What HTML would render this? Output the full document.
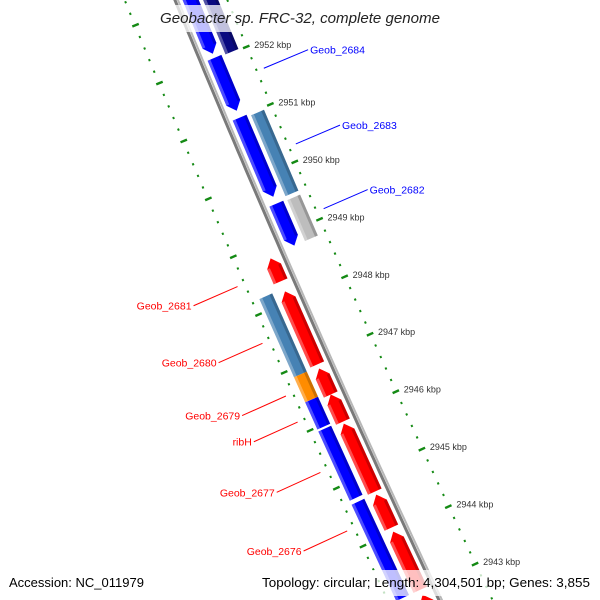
<!DOCTYPE html>
<html><head><meta charset="utf-8"><style>
html,body{margin:0;padding:0;background:#fff;width:600px;height:600px;overflow:hidden;}
svg{display:block;font-family:"Liberation Sans",sans-serif;overflow:hidden;}
</style></head><body>
<svg id="map" width="600" height="600" viewBox="0 0 600 600" xmlns="http://www.w3.org/2000/svg">
<g id="ticks"></g>
<g id="backbone"></g>
<g id="features"></g>
<g id="labels"></g>
<rect x="157" y="5" width="288" height="27" fill="#fff" fill-opacity="0.75"/>
<text x="160" y="23" font-size="15" font-style="italic" fill="#222" textLength="280" lengthAdjust="spacingAndGlyphs">Geobacter sp. FRC-32, complete genome</text>
<rect x="258" y="570" width="338" height="26" fill="#fff" fill-opacity="0.75"/>
<text x="9" y="587" font-size="13" fill="#000" textLength="135" lengthAdjust="spacingAndGlyphs">Accession: NC_011979</text>
<text x="262" y="587" font-size="13" fill="#000" textLength="328" lengthAdjust="spacingAndGlyphs">Topology: circular; Length: 4,304,501 bp; Genes: 3,855</text>
</svg>
<script>
// ---- data ----
const tickKbp = [2943,2944,2945,2946,2947,2948,2949,2950,2951,2952,2953];
const tickLabels = ["2943 kbp","2944 kbp","2945 kbp","2946 kbp","2947 kbp","2948 kbp","2949 kbp","2950 kbp","2951 kbp","2952 kbp","2953 kbp"];
const featStart = [2953474,2952052,2951012,2949520, 2953474,2950977,2949503, 2948757,2948185,2946850,2946399,2945896,2944665,2944024,2942931, 2948237,2946885,2946451,2945948,2944683,2942931];
const featEnd   = [2952087,2951098,2949607,2948757, 2952000,2949538,2948757, 2948324,2946885,2946365,2945896,2944683,2944058,2942983,2942000, 2946850,2946417,2945948,2944717,2942983,2942400];
const featLane  = ["R1","R1","R1","R1", "R2","R2","R2", "L1","L1","L1","L1","L1","L1","L1","L1", "L2","L2","L2","L2","L2","L2"];
const featColor = ["#0000ff","#0000ff","#0000ff","#0000ff", "#0a0a80","#4682b4","#bdbdbd", "#ff0000","#ff0000","#ff0000","#ff0000","#ff0000","#ff0000","#ff0000","#ff0000", "#4682b4","#ff8c00","#0000ff","#0000ff","#0000ff","#ff8c00"];
const labelNames = ["Geob_2684","Geob_2683","Geob_2682","Geob_2681","Geob_2680","Geob_2679","ribH","Geob_2677","Geob_2676"];
const labelBp    = [2951575,2950257,2949130,2948540,2947560,2946650,2946200,2945330,2944320];
const labelSide  = ["R","R","R","L","L","L","L","L","L"];
const labelColor = ["#0000ff","#0000ff","#0000ff","#ff0000","#ff0000","#ff0000","#ff0000","#ff0000","#ff0000"];

// ---- axis / geometry ----
const NS="http://www.w3.org/2000/svg";
function sOf(bp){ return 65 + (2952000 - bp) * 0.05767; }
function xg(s){ return 176 + 0.41*s + 0.00005*s*s; }
function pt(s,v){ const d=0.41+0.0001*s; const L=Math.sqrt(1+d*d); return [xg(s)+v*(1/L), s+v*(-d/L)]; }
const laneV = {R1:[6,21], R2:[25,39], L1:[-21,-6], L2:[-40,-26]};
const laneDir = {R1:"down", R2:"none", L1:"up", L2:"none"};
function poly(points){ return points.map(p=>p[0].toFixed(1)+","+p[1].toFixed(1)).join(" "); }

// ticks
const tg=document.getElementById("ticks");
for(let k=Math.round(2942.2*5); k<=Math.round(2953.6*5); k++){
  const kb=k/5; const s=sOf(kb*1000); const major=(k%5===0);
  [1,-1].forEach(side=>{
    const a = major? pt(s,side*43.5):pt(s,side*46.5);
    const b = major? pt(s,side*50.5):pt(s,side*48.5);
    const ln=document.createElementNS(NS,"line");
    
    
    ln.setAttribute("x1",a[0]);ln.setAttribute("y1",a[1]);ln.setAttribute("x2",b[0]);ln.setAttribute("y2",b[1]);
    ln.setAttribute("stroke","#148a14");ln.setAttribute("stroke-width",major?2.4:2.2);
    tg.appendChild(ln);
  });
}
tickKbp.forEach((kb,i)=>{
  const p=pt(sOf(kb*1000),47);
  if(p[1]>595) return;
  const t=document.createElementNS(NS,"text");
  
  
  t.setAttribute("x",p[0]+8);t.setAttribute("y",p[1]+1);
  t.setAttribute("font-size","9");t.setAttribute("fill","#333");
  t.textContent=tickLabels[i];tg.appendChild(t);
});

// backbone
const bg=document.getElementById("backbone");
[[-1,"#7a7a7a",3],[1.8,"#b8b8b8",2]].forEach(c=>{
  const pts=[];for(let s=-30;s<=640;s+=10)pts.push(pt(s,c[0]));
  const pl=document.createElementNS(NS,"polyline");
  
  
  pl.setAttribute("points",poly(pts));pl.setAttribute("fill","none");pl.setAttribute("stroke",c[1]);pl.setAttribute("stroke-width",c[2]);
  bg.appendChild(pl);
});

// features
const fg=document.getElementById("features");
featStart.forEach((st,i)=>{
  const s1=sOf(st)+1, s2=sOf(featEnd[i])-1;
  const [v0,v1]=laneV[featLane[i]]; const vc=(v0+v1)/2; const dir=laneDir[featLane[i]];
  const head=Math.min(8,(s2-s1)*0.5);
  let P;
  if(dir==="down") P=[pt(s1,v0),pt(s1,v1),pt(s2-head,v1),pt(s2,vc),pt(s2-head,v0)];
  else if(dir==="up") P=[pt(s1,vc),pt(s1+head,v1),pt(s2,v1),pt(s2,v0),pt(s1+head,v0)];
  else P=[pt(s1,v0),pt(s1,v1),pt(s2,v1),pt(s2,v0)];
  const g=document.createElementNS(NS,"polygon");
  
  
  g.setAttribute("points",poly(P));g.setAttribute("fill",featColor[i]);
  fg.appendChild(g);
  const hs1 = dir==="up"? s1+head : s1, hs2 = dir==="down"? s2-head : s2;
  const hl=document.createElementNS(NS,"polygon");
  
  
  hl.setAttribute("points",poly([pt(hs1,v0),pt(hs1,v0+3),pt(hs2,v0+3),pt(hs2,v0)]));
  hl.setAttribute("fill","#fff");hl.setAttribute("fill-opacity","0.3");fg.appendChild(hl);
  const sh=document.createElementNS(NS,"polygon");
  
  
  sh.setAttribute("points",poly([pt(hs1,v1-3),pt(hs1,v1),pt(hs2,v1),pt(hs2,v1-3)]));
  sh.setAttribute("fill","#000");sh.setAttribute("fill-opacity","0.2");fg.appendChild(sh);
});

// labels
const lg=document.getElementById("labels");
labelNames.forEach((nm,i)=>{
  const s=sOf(labelBp[i]); const sg=labelSide[i]==="R"?1:-1;
  const a=pt(s,sg*55), b=pt(s,sg*103);
  const ln=document.createElementNS(NS,"line");
  
  
  ln.setAttribute("x1",a[0]);ln.setAttribute("y1",a[1]);ln.setAttribute("x2",b[0]);ln.setAttribute("y2",b[1]);
  ln.setAttribute("stroke",labelColor[i]);ln.setAttribute("stroke-width","1");
  lg.appendChild(ln);
  const t=document.createElementNS(NS,"text");
  
  
  t.setAttribute("x",b[0]+sg*2);t.setAttribute("y",b[1]+4);
  t.setAttribute("text-anchor",sg>0?"start":"end");
  t.setAttribute("font-size","10.5");t.setAttribute("fill",labelColor[i]);
  t.textContent=nm;lg.appendChild(t);
});
</script>
</body></html>
